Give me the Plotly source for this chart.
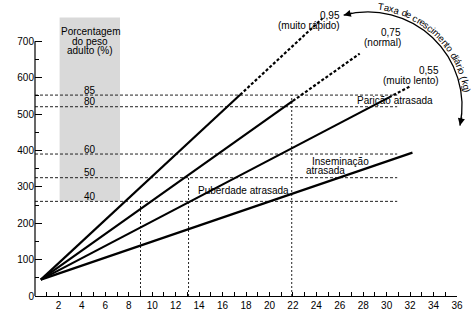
import math
import numpy as np
import plotly.graph_objects as go

FONT = "Liberation Sans, Arial, Helvetica, sans-serif"

# Daily growth rate curves (kg/day) for large dairy breeds
rate_labels = ["0,95", "0,75", "0,55", "0,35"]
rate_notes = [["(muito rápido)"], ["(normal)"], ["(muito lento)"], ["(Lento, não", "aceitável)"]]
start_age, start_kg = 0.5, 45
end_age = [24.5, 27.7, 32.0, 32.2]
end_kg = [762, 666, 576, 394]
solid_to_age = [17.5, 22.0, 30.2, 32.2]

# Percent of adult body weight reference levels
pct_levels = [85, 80, 60, 50, 40]
pct_kg = [552, 520, 390, 325, 260]
level_end_age = 30.9

# Ages at which the reproductive milestones are reached
milestone_age = [9.0, 13.1, 21.9]
milestone_kg = [260, 325, 552]

x_ticks = list(range(0, 37))
x_ticktext = [str(v) if v % 2 == 0 and v > 0 else "" for v in x_ticks]
y_ticks = list(range(0, 701, 100))
y_minor = list(range(50, 651, 100))

# plot-area geometry (px)
W, H = 474, 322
ML, MR, MT, MB = 35, 17, 0, 26
PW, PH = W - ML - MR, H - MT - MB
X_MAX = 36
Y_MAX = 813.2

fig = go.Figure()

# reference levels
for kg in pct_kg:
    fig.add_trace(go.Scatter(x=[0, level_end_age], y=[kg, kg], mode="lines",
                             line=dict(color="#222", width=1, dash="3px,2px"),
                             hoverinfo="skip"))
for a, kg in zip(milestone_age, milestone_kg):
    fig.add_trace(go.Scatter(x=[a, a], y=[0, kg], mode="lines",
                             line=dict(color="#222", width=1, dash="2px,2px"),
                             hoverinfo="skip"))

# growth curves: solid part, then dotted projection
for ea, ek, sa in zip(end_age, end_kg, solid_to_age):
    sk = float(np.interp(sa, [start_age, ea], [start_kg, ek]))
    fig.add_trace(go.Scatter(x=[start_age, sa], y=[start_kg, sk], mode="lines",
                             line=dict(color="black", width=2.2), hoverinfo="skip"))
    if sa < ea:
        fig.add_trace(go.Scatter(x=[sa, ea], y=[sk, ek], mode="lines",
                                 line=dict(color="black", width=2.2, dash="3px,2px"),
                                 hoverinfo="skip"))

shapes = [
    dict(type="rect", xref="x", yref="y", x0=2.1, x1=7.25, y0=260, y1=765,
         fillcolor="#d9d9d9", line=dict(width=0), layer="below"),
    dict(type="line", xref="paper", yref="paper", x0=0, x1=0, y0=0, y1=700 / Y_MAX,
         line=dict(color="black", width=1.2)),
]


def to_paper(px, py):
    return (px - ML) / PW, (H - MB - py) / PH


# curved arrow for the daily growth rate (layout pixels)
cx, cy, r_line, r_text = 368, 106, 94, 100
a0, a1 = 105.0, -12.0
nseg = 4
path = None
step = (a1 - a0) / nseg
k = 4 / 3 * math.tan(math.radians(abs(step)) / 4) * r_line


def arc_pt(r, ang):
    t = math.radians(ang)
    return cx + r * math.cos(t), cy - r * math.sin(t)


for i in range(nseg):
    t0 = a0 + i * step
    t1 = t0 + step
    p0 = arc_pt(r_line, t0)
    p3 = arc_pt(r_line, t1)
    r0, r1 = math.radians(t0), math.radians(t1)
    # clockwise tangent on screen
    d0 = (math.sin(r0), math.cos(r0))
    d1 = (math.sin(r1), math.cos(r1))
    p1 = (p0[0] + k * d0[0], p0[1] + k * d0[1])
    p2 = (p3[0] - k * d1[0], p3[1] - k * d1[1])
    pts = [to_paper(*p) for p in (p0, p1, p2, p3)]
    if path is None:
        path = "M%.5f,%.5f" % pts[0]
    path += " C%.5f,%.5f %.5f,%.5f %.5f,%.5f" % (pts[1] + pts[2] + pts[3])
shapes.append(dict(type="path", xref="paper", yref="paper", path=path,
                   line=dict(color="black", width=1.3)))

annotations = []


def note(text, x, y, xanchor="center", size=10, **kw):
    annotations.append(dict(text=text, x=x, y=y, xref="x", yref="y", showarrow=False,
                            xanchor=xanchor, yanchor="middle",
                            font=dict(family=FONT, size=size, color="black"), **kw))


# arrow heads at both ends of the arc
for ang, sgn in ((a0, -1), (a1, 1)):
    tip = arc_pt(r_line, ang)
    t = math.radians(ang)
    d = (sgn * math.sin(t), sgn * math.cos(t))
    xp, yp = to_paper(*tip)
    annotations.append(dict(x=xp, y=yp, xref="paper", yref="paper", text="",
                            showarrow=True, arrowhead=2, arrowsize=1.1, arrowwidth=1.3,
                            arrowcolor="black", ax=-d[0] * 10, ay=-d[1] * 10))

# text along the arc
arc_title = "Taxa de crescimento diário (kg)"
widths = {"T": 611, "a": 556, "x": 500, " ": 278, "d": 556, "e": 556, "c": 500,
          "r": 333, "s": 500, "i": 222, "m": 833, "n": 556, "t": 278, "o": 556,
          "á": 556, "(": 333, "k": 500, "g": 556, ")": 333}
fs = 9.5
pos = 0.0
theta_start = 84.0
for ch in arc_title:
    w = widths.get(ch, 556) * fs / 1000
    mid = pos + w / 2
    pos += w
    if ch == " ":
        continue
    ang = theta_start - math.degrees(mid / r_text)
    px, py = arc_pt(r_text, ang)
    xp, yp = to_paper(px, py)
    annotations.append(dict(text=ch, x=xp, y=yp, xref="paper", yref="paper",
                            showarrow=False, xanchor="center", yanchor="middle",
                            textangle=90 - ang,
                            font=dict(family=FONT, size=fs, color="black")))

# rate labels
rate_pos = [(26.2, 770, 743), (31.4, 724, 696), (34.6, 619, 592), (36.9, 435, 408)]
for lab, notes, (x, y0, y1) in zip(rate_labels, rate_notes, rate_pos):
    note(lab, x, y0, xanchor="right")
    for j, t in enumerate(notes):
        note(t, x + 0.05 * j, y1 - 27.5 * j, xanchor="right")

# percent box
note("Porcentagem", 4.7, 727)
note("do peso", 4.7, 700)
note("adulto (%)", 4.7, 675)
for p, kg in zip(pct_levels, pct_kg):
    note(str(p), 4.7, kg, yshift=5)

note("Parição atrasada", 30.7, 537)
note("Inseminação", 26.1, 370)
note("atrasada", 24.8, 345)
note("Puberdade atrasada", 17.8, 290)

note("Peso corporal de raças leiteiras grandes (kg)", -2.4, 352, textangle=-90)
note("Idade (Meses)", 33.7, -52)

fig.update_layout(
    width=W, height=H,
    margin=dict(l=ML, r=MR, t=MT, b=MB, pad=0),
    paper_bgcolor="white", plot_bgcolor="white",
    showlegend=False,
    shapes=shapes, annotations=annotations,
    font=dict(family=FONT, size=10, color="black"),
    xaxis=dict(range=[0, X_MAX], showgrid=False, zeroline=False,
               showline=True, linecolor="black", linewidth=1.2,
               tickmode="array", tickvals=x_ticks, ticktext=x_ticktext,
               ticks="inside", ticklen=4, tickwidth=1, tickcolor="black",
               tickfont=dict(family=FONT, size=10, color="black")),
    yaxis=dict(range=[0, Y_MAX], showgrid=False, zeroline=False, showline=False,
               tickmode="array", tickvals=y_ticks,
               ticks="inside", ticklen=7, tickwidth=1, tickcolor="black",
               tickfont=dict(family=FONT, size=10, color="black"),
               minor=dict(tickmode="array", tickvals=y_minor, ticks="inside",
                          ticklen=4, tickwidth=1, tickcolor="black")),
)

fig.write_html("out.html", config={"displayModeBar": False})
